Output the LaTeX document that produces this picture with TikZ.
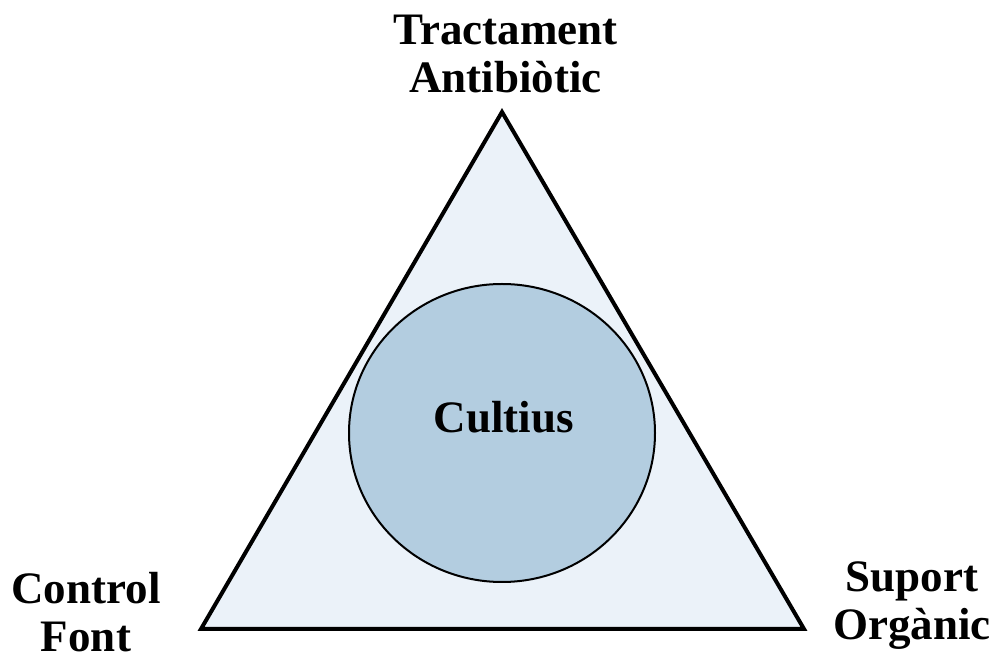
\documentclass[tikz,border=0pt]{standalone}
\usepackage{fontspec}
\setmainfont{Liberation Serif}
\definecolor{trifill}{HTML}{EBF2F9}
\definecolor{circfill}{HTML}{B3CDE0}
\begin{document}
\begin{tikzpicture}[x=1pt,y=1pt,
  lbl/.style={font=\fontsize{45}{48}\selectfont\bfseries, align=center, inner sep=0pt, anchor=base},
  tri/.style={draw=black, line width=4pt, fill=trifill, line join=miter}]
\useasboundingbox (0,0) rectangle (997,659);
\coordinate (top) at (502,547);
\coordinate (bl) at (201,30);
\coordinate (br) at (804,30);
\draw[tri] (top) -- (br) -- (bl) -- cycle;
\draw[line width=2pt, fill=circfill] (502,226) ellipse [x radius=153, y radius=149];
\node[lbl] (cultius) at (504,226) {Cultius};
\node[lbl] (ta) at (505.5,566) {Tractament\\Antibiòtic};
\node[lbl] (cf) at (86,7) {Control\\Font};
\node[lbl] (so) at (912,19) {Suport\\Orgànic};
\end{tikzpicture}
\end{document}
